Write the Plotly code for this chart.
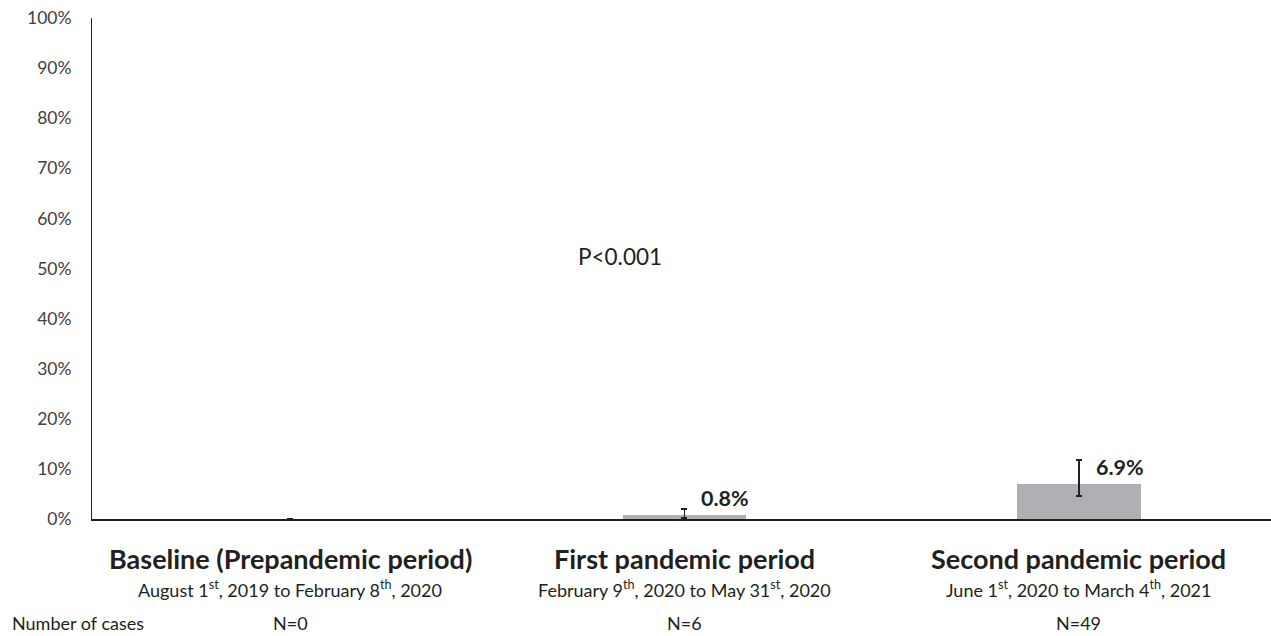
import plotly.graph_objects as go

categories = ["Baseline (Prepandemic period)", "First pandemic period", "Second pandemic period"]
subtitles = ["August 1<sup>st</sup>, 2019 to February 8<sup>th</sup>, 2020",
             "February 9<sup>th</sup>, 2020 to May 31<sup>st</sup>, 2020",
             "June 1<sup>st</sup>, 2020 to March 4<sup>th</sup>, 2021"]
case_counts = ["N=0", "N=6", "N=49"]
values = [0.0, 0.8, 6.9]
err_upper = [0.0, 1.2, 4.9]
err_lower = [0.0, 0.6, 2.3]
value_labels = ["", "0.8%", "6.9%"]
y_ticks = [0, 10, 20, 30, 40, 50, 60, 70, 80, 90, 100]
y_tick_labels = [f"{t}%" for t in y_ticks]
p_text = "P<0.001"
p_pos = (0.837, 52.3)

FONT = "Lato, 'Open Sans', sans-serif"
TXT = "#231F20"
xpos = list(range(len(categories)))

fig = go.Figure()
fig.add_trace(go.Bar(
    x=xpos, y=values, width=0.314,
    marker=dict(color="#B0B0B4", line=dict(width=0)),
    error_y=dict(type="data", symmetric=False, array=err_upper, arrayminus=err_lower,
                 color=TXT, thickness=1.5, width=3),
    showlegend=False, hoverinfo="skip",
))

ann = []
for i, (v, lab) in enumerate(zip(values, value_labels)):
    if lab:
        ann.append(dict(x=xpos[i], y=v, xref="x", yref="y", text=f"<b>{lab}</b>",
                        showarrow=False, xanchor="left", yanchor="middle",
                        xshift=15, yshift=17, font=dict(size=21.5, color=TXT, family=FONT)))
for i, (c, s, n) in enumerate(zip(categories, subtitles, case_counts)):
    ann.append(dict(x=xpos[i], y=0, xref="x", yref="paper", text=f"<b>{c}</b>",
                    showarrow=False, xanchor="center", yanchor="middle", yshift=-39,
                    font=dict(size=27, color=TXT, family=FONT)))
    ann.append(dict(x=xpos[i], y=0, xref="x", yref="paper", text=s,
                    showarrow=False, xanchor="center", yanchor="middle", yshift=-70,
                    font=dict(size=18, color=TXT, family=FONT)))
    ann.append(dict(x=xpos[i], y=0, xref="x", yref="paper", text=n,
                    showarrow=False, xanchor="center", yanchor="middle", yshift=-104,
                    font=dict(size=18, color=TXT, family=FONT)))
ann.append(dict(x=0, y=0, xref="paper", yref="paper", text="Number of cases",
                showarrow=False, xanchor="left", yanchor="middle", xshift=-82, yshift=-104,
                font=dict(size=18, color=TXT, family=FONT)))
ann.append(dict(x=p_pos[0], y=p_pos[1], xref="x", yref="y", text=p_text,
                showarrow=False, xanchor="center", yanchor="middle",
                font=dict(size=22.5, color=TXT, family=FONT)))

fig.update_layout(
    width=1271, height=636,
    margin=dict(l=92, r=0, t=18, b=117),
    paper_bgcolor="white", plot_bgcolor="white",
    font=dict(family=FONT, color=TXT),
    annotations=ann,
    xaxis=dict(range=[-0.502, 2.487], showticklabels=False, showgrid=False, zeroline=False,
               showline=True, linecolor=TXT, linewidth=2, ticks=""),
    yaxis=dict(range=[0, 100], tickvals=y_ticks, ticktext=y_tick_labels, showgrid=False,
               zeroline=False, showline=True, linecolor=TXT, linewidth=1, ticks="",
               ticklabelstandoff=16, tickfont=dict(size=17.5, color="#404040", family=FONT)),
    bargap=0,
)

fig.write_html("out.html", config={"displayModeBar": False},
               post_script="document.body.style.margin='0';document.body.style.overflow='hidden';")
